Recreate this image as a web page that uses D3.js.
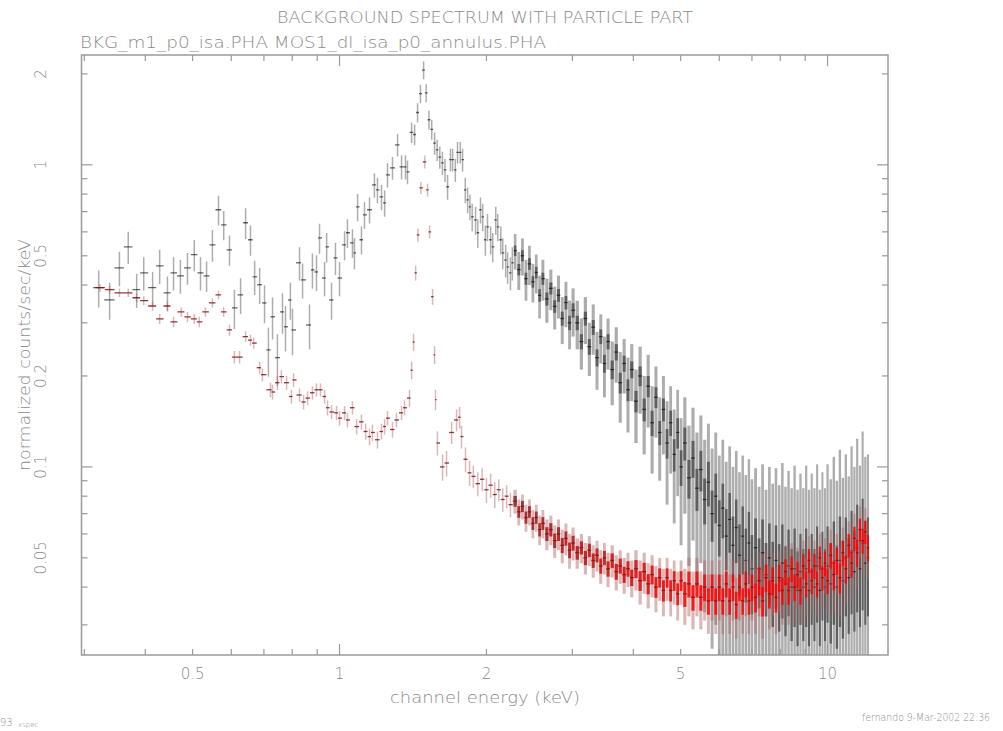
<!DOCTYPE html>
<meta charset='utf-8'>
<html>
  <head>
    <script src="https://d3js.org/d3.v7.min.js"></script>
    <style>
      body { margin: 0; background: #fff; }
      text { font-family: 'DejaVu Sans', sans-serif; font-weight: 300; fill: #8a8a8a; }
    </style>
  </head>
  <body>
    <div id="chart"></div>
    <script>
        // low energy channels, black spectrum
        var blackLoE = [0.321,0.338,0.354,0.369,0.384,0.397,0.414,0.428,0.444,0.457,
            0.472,0.488,0.504,0.519,0.534,0.549,0.565,0.579,0.595,0.609,
            0.627,0.642,0.657,0.670,0.686,0.702,0.715,0.729,0.746,0.764,
            0.775,0.793,0.801,0.828,0.840,0.868,0.880,0.897,0.910,0.932,
            0.941,0.963,0.981,1.000,1.024,1.038,1.063,1.073,1.089,1.109,
            1.125,1.152,1.179,1.196,1.219,1.237,1.254,1.284,1.315,1.340,
            1.365,1.378,1.405,1.425,1.445,1.465,1.487,1.505,1.525,1.545,
            1.566,1.585,1.605,1.625,1.645,1.665,1.688,1.705,1.727,1.745,
            1.768,1.787,1.81,1.83,1.85,1.87,1.90,1.92,1.945,1.965,
            1.99,2.01,2.04,2.06,2.09,2.11,2.14,2.16,2.19,2.21,
            2.24,2.26]
        var blackLoY = [0.392,0.357,0.456,0.535,0.386,0.439,0.392,0.463,0.377,0.439,
            0.429,0.456,0.504,0.439,0.429,0.543,0.710,0.633,0.523,0.336,
            0.371,0.643,0.565,0.426,0.401,0.349,0.244,0.314,0.230,0.326,
            0.291,0.357,0.284,0.474,0.416,0.295,0.449,0.442,0.573,0.422,
            0.535,0.357,0.492,0.422,0.543,0.596,0.552,0.511,0.726,0.565,
            0.683,0.710,0.858,0.826,0.783,0.748,0.927,0.977,1.165,0.985,
            0.985,0.948,1.28,1.26,1.49,1.72,2.06,1.73,1.41,1.31,
            1.18,1.12,1.06,1.015,0.963,0.846,1.04,1.04,0.963,1.10,
            1.10,1.04,0.826,0.766,0.726,0.673,0.657,0.596,0.710,0.673,
            0.565,0.623,0.565,0.535,0.657,0.623,0.565,0.511,0.484,0.459,
            0.439,0.474]
        var blackLoErr = [0.055,0.05,0.06,0.065,0.05,0.055,0.05,0.06,0.05,0.055,
            0.055,0.055,0.06,0.055,0.05,0.065,0.08,0.07,0.06,0.05,
            0.05,0.075,0.065,0.055,0.055,0.05,0.045,0.05,0.045,0.05,
            0.05,0.05,0.05,0.06,0.055,0.05,0.06,0.06,0.065,0.055,
            0.06,0.05,0.06,0.055,0.06,0.065,0.06,0.06,0.075,0.06,
            0.07,0.07,0.08,0.08,0.075,0.075,0.085,0.085,0.1,0.09,
            0.09,0.085,0.1,0.1,0.11,0.12,0.14,0.12,0.1,0.1,
            0.1,0.09,0.09,0.09,0.085,0.08,0.09,0.09,0.085,0.09,
            0.09,0.09,0.08,0.075,0.07,0.07,0.07,0.065,0.07,0.07,
            0.065,0.065,0.06,0.06,0.07,0.065,0.06,0.06,0.06,0.055,
            0.055,0.06]

        // low energy channels, red spectrum
        var redLoE = [0.323,0.338,0.354,0.369,0.384,0.397,0.414,0.428,0.444,0.457,
            0.474,0.488,0.504,0.516,0.531,0.549,0.565,0.579,0.595,0.609,
            0.624,0.642,0.657,0.667,0.686,0.695,0.722,0.729,0.746,0.760,
            0.779,0.797,0.805,0.828,0.844,0.860,0.880,0.897,0.914,0.932,
            0.945,0.963,0.986,1.000,1.024,1.038,1.063,1.084,1.109,1.131,
            1.152,1.168,1.196,1.219,1.237,1.254,1.284,1.308,1.340,1.359,
            1.391,1.405,1.418,1.432,1.448,1.468,1.495,1.515,1.529,1.551,
            1.566,1.573,1.587,1.626,1.657,1.697,1.737,1.762,1.778,1.812,
            1.847,1.88,1.92,1.96,2.00,2.04,2.08,2.12,2.16,2.20,
            2.24]
        var redLoY = [0.392,0.386,0.377,0.377,0.363,0.355,0.341,0.309,0.341,0.302,
            0.326,0.314,0.309,0.302,0.326,0.349,0.371,0.326,0.284,0.231,
            0.231,0.270,0.263,0.257,0.213,0.202,0.180,0.177,0.190,0.199,
            0.190,0.171,0.194,0.173,0.164,0.169,0.176,0.180,0.180,0.171,
            0.157,0.152,0.151,0.145,0.151,0.143,0.157,0.136,0.141,0.131,
            0.126,0.130,0.123,0.131,0.136,0.145,0.133,0.143,0.151,0.157,
            0.169,0.209,0.259,0.439,0.586,0.839,1.023,0.826,0.600,0.366,
            0.235,0.167,0.120,0.100,0.103,0.130,0.143,0.146,0.126,0.106,
            0.0956,0.093,0.088,0.091,0.084,0.087,0.081,0.084,0.078,0.080,
            0.075]
        var redLoErr = [0.012,0.012,0.012,0.012,0.012,0.012,0.012,0.012,0.012,0.012,
            0.012,0.012,0.012,0.012,0.012,0.012,0.012,0.012,0.012,0.011,
            0.011,0.011,0.011,0.011,0.01,0.01,0.01,0.01,0.01,0.01,
            0.01,0.009,0.01,0.009,0.009,0.009,0.009,0.009,0.009,0.009,
            0.009,0.008,0.008,0.008,0.008,0.008,0.008,0.008,0.008,0.008,
            0.008,0.008,0.008,0.008,0.008,0.008,0.008,0.008,0.008,0.009,
            0.011,0.014,0.017,0.025,0.03,0.04,0.05,0.04,0.03,0.022,
            0.016,0.013,0.011,0.01,0.01,0.011,0.012,0.012,0.011,0.01,
            0.009,0.008,0.008,0.008,0.008,0.008,0.008,0.007,0.007,0.007,
            0.007]

        // high energy channels (both spectra)
        var gridE = [2.29,2.33,2.37,2.41,2.45,2.49,2.53,2.57,2.61,2.66,2.71,2.76,2.81,2.86,2.91,2.96,3.01,
            3.07,3.13,3.19,3.25,3.31,3.37,3.43,3.49,3.55,3.62,3.69,3.76,3.83,3.90,3.97,
            4.05,4.13,4.21,4.29,4.37,4.45,4.53,4.61,4.69,4.77,4.85,4.93,5.01,
            5.1,5.2,5.3,5.4,5.5,5.6,5.7,5.8,5.9,6.0,6.1,6.2,6.3,6.4,6.5,6.6,6.7,6.8,6.9,7.0,
            7.12,7.24,7.36,7.48,7.6,7.72,7.84,7.96,8.08,8.2,8.32,8.44,8.56,8.68,8.8,8.92,9.04,9.16,9.28,9.4,9.52,9.64,9.76,9.88,10.0,
            10.15,10.3,10.45,10.6,10.75,10.9,11.05,11.2,11.35,11.5,11.65,11.8,11.95,12.1]
        var blackHiY = [0.52,0.45,0.50,0.42,0.47,0.41,0.44,0.37,0.42,0.36,0.39,0.34,0.37,0.31,0.35,0.30,0.33,
            0.30,0.26,0.31,0.25,0.29,0.23,0.27,0.22,0.26,0.21,0.24,0.19,0.22,0.18,0.21,
            0.165,0.20,0.155,0.185,0.14,0.17,0.13,0.155,0.12,0.14,0.11,0.13,0.10,
            0.12,0.092,0.107,0.085,0.098,0.078,0.089,0.07,0.08,0.064,0.073,0.059,0.067,0.055,0.063,0.051,0.059,0.049,0.056,0.046,
            0.054,0.046,0.052,0.044,0.05,0.043,0.049,0.042,0.048,0.041,0.047,0.04,0.046,0.039,0.045,0.04,0.046,0.039,0.045,0.04,0.047,0.039,0.046,0.04,0.047,
            0.041,0.048,0.04,0.049,0.042,0.05,0.043,0.052,0.045,0.054,0.046,0.056,0.048,0.05]
        var blackHiErr = [0.07,0.065,0.07,0.065,0.07,0.06,0.065,0.06,0.065,0.06,0.06,0.055,0.06,0.055,0.06,0.055,0.06,
            0.055,0.05,0.055,0.05,0.055,0.05,0.05,0.05,0.05,0.05,0.05,0.05,0.045,0.05,0.045,
            0.045,0.05,0.045,0.05,0.045,0.045,0.04,0.045,0.045,0.045,0.045,0.05,0.045,
            0.05,0.045,0.05,0.045,0.05,0.045,0.05,0.045,0.05,0.045,0.05,0.045,0.05,0.045,0.05,0.045,0.05,0.045,0.05,0.045,
            0.045,0.04,0.05,0.04,0.05,0.045,0.05,0.045,0.055,0.045,0.05,0.045,0.055,0.045,0.05,0.045,0.055,0.045,0.05,0.045,0.055,0.045,0.05,0.045,0.055,
            0.05,0.06,0.05,0.065,0.05,0.06,0.05,0.065,0.055,0.07,0.055,0.075,0.06,0.06]
        var redHiY = [0.077,0.071,0.074,0.068,0.071,0.065,0.068,0.062,0.065,0.060,0.062,0.057,0.060,0.055,0.058,0.053,0.056,
            0.052,0.054,0.050,0.053,0.049,0.051,0.047,0.050,0.046,0.049,0.045,0.047,0.044,0.046,0.043,
            0.046,0.042,0.045,0.041,0.044,0.040,0.043,0.039,0.043,0.039,0.042,0.038,0.042,
            0.038,0.041,0.037,0.041,0.037,0.040,0.036,0.040,0.036,0.040,0.036,0.041,0.036,0.040,0.035,0.040,0.036,0.041,0.036,0.040,
            0.037,0.042,0.036,0.043,0.038,0.042,0.037,0.043,0.039,0.045,0.039,0.046,0.040,0.044,0.039,0.047,0.041,0.049,0.042,0.047,0.041,0.050,0.043,0.048,0.042,
            0.051,0.044,0.049,0.043,0.052,0.046,0.055,0.048,0.058,0.052,0.062,0.057,0.061,0.054]
        var redHiErr = [0.007,0.007,0.007,0.007,0.007,0.007,0.007,0.007,0.007,0.007,0.007,0.007,0.007,0.007,0.007,0.007,0.007,
            0.006,0.006,0.006,0.006,0.006,0.006,0.006,0.006,0.006,0.006,0.006,0.006,0.006,0.006,0.006,
            0.007,0.007,0.007,0.007,0.007,0.007,0.007,0.007,0.007,0.007,0.007,0.007,0.007,
            0.008,0.009,0.008,0.009,0.008,0.009,0.008,0.009,0.008,0.009,0.008,0.009,0.008,0.009,0.008,0.009,0.008,0.009,0.008,0.009,
            0.009,0.01,0.009,0.01,0.009,0.01,0.009,0.01,0.009,0.01,0.009,0.01,0.009,0.01,0.009,0.01,0.009,0.01,0.009,0.01,0.009,0.01,0.009,0.01,0.009,
            0.011,0.011,0.011,0.011,0.011,0.011,0.011,0.011,0.012,0.012,0.012,0.012,0.012,0.012]

        var xTicks = [0.5, 1, 2, 5, 10]
        var yTicks = [0.05, 0.1, 0.2, 0.5, 1, 2]

        var W = 1003, H = 731
        var pLeft = 81.5, pRight = 888, pTop = 55, pBottom = 655

        var svg = d3.select('#chart').append('svg')
            .attr('width', W)
            .attr('height', H)

        // Scales
        var xScale = d3.scaleLog().domain([0.296, 13.3]).range([pLeft, pRight])
        var yScale = d3.scaleLog().domain([0.02384, 2.31]).range([pBottom, pTop])
        var yMin = yScale.domain()[0]
        // red channels go from dark red to bright red in the crowded part
        var redCore = d3.scaleLog().domain([2.3, 5.5]).range(['#9a1a1a', '#ff0000']).clamp(true)

        // build one record per channel; channels past nLow are the crowded ones
        function makeSeries(E, Y, Err, nLow) {
            return E.map(function (e, i) {
                var lo = i > 0 ? Math.sqrt(E[i - 1] * e) : e * Math.sqrt(e / E[i + 1])
                var hi = i < E.length - 1 ? Math.sqrt(E[i + 1] * e) : e * Math.sqrt(e / E[i - 1])
                var binPx = xScale(hi) - xScale(lo)
                var dense = i >= nLow
                return { e: e, v: Y[i], err: Err[i], lo: lo, hi: hi, dense: dense, w: dense ? Math.max(1.5, binPx * 0.8) : 1.5 }
            })
        }
        var black = makeSeries(blackLoE.concat(gridE), blackLoY.concat(blackHiY), blackLoErr.concat(blackHiErr), blackLoE.length)
        var red = makeSeries(redLoE.concat(gridE), redLoY.concat(redHiY), redLoErr.concat(redHiErr), redLoE.length)

        svg.append('clipPath').attr('id', 'plotClip')
            .append('rect')
            .attr('x', pLeft).attr('y', pTop)
            .attr('width', pRight - pLeft).attr('height', pBottom - pTop)

        var plot = svg.append('g').attr('clip-path', 'url(#plotClip)')

        function yLow(v) { return yScale(Math.max(yMin * 0.9, v)) }

        function drawSeries(data, st) {
            var g = plot.append('g')
            // full error bar
            g.selectAll('line.v')
                .data(data)
                .enter()
                .append('line')
                .attr('class', 'v')
                .attr('x1', function (d) { return xScale(d.e) })
                .attr('x2', function (d) { return xScale(d.e) })
                .attr('y1', function (d) { return yScale(d.v + d.err) })
                .attr('y2', function (d) { return yLow(d.v - d.err) })
                .attr('stroke', st.bar)
                .attr('stroke-opacity', st.barOp)
                .attr('stroke-width', function (d) { return d.w })
            // crowded channels pile up darker near the data value
            g.selectAll('line.c')
                .data(data.filter(function (d) { return d.dense }))
                .enter()
                .append('line')
                .attr('class', 'c')
                .attr('x1', function (d) { return xScale(d.e) })
                .attr('x2', function (d) { return xScale(d.e) })
                .attr('y1', function (d) { return yScale(d.v + d.err * st.coreFrac) })
                .attr('y2', function (d) { return yLow(d.v - d.err * st.coreFrac) })
                .attr('stroke', st.core)
                .attr('stroke-opacity', st.coreOp)
                .attr('stroke-width', function (d) { return d.w })
            // channel width
            g.selectAll('line.h')
                .data(data)
                .enter()
                .append('line')
                .attr('class', 'h')
                .attr('x1', function (d) { return xScale(d.lo) })
                .attr('x2', function (d) { return xScale(d.hi) })
                .attr('y1', function (d) { return yScale(d.v) })
                .attr('y2', function (d) { return yScale(d.v) })
                .attr('stroke', st.mark)
                .attr('stroke-opacity', st.markOp)
                .attr('stroke-width', 1.3)
        }
        drawSeries(black, { bar: '#000', barOp: 0.32, core: '#000', coreOp: 0.45, coreFrac: 0.3, mark: '#000', markOp: 0.6 })
        drawSeries(red, { bar: '#b06060', barOp: 0.45, core: function (d) { return redCore(d.e) }, coreOp: 0.85, coreFrac: 0.45, mark: '#7a1515', markOp: 0.85 })

        // frame
        svg.append('rect')
            .attr('x', pLeft).attr('y', pTop)
            .attr('width', pRight - pLeft).attr('height', pBottom - pTop)
            .attr('fill', 'none')
            .attr('stroke', '#9a9a9a')
            .attr('stroke-width', 1.5)

        // log ticks on all four sides, pointing inward
        var axisG = svg.append('g').attr('stroke', '#9a9a9a').attr('stroke-width', 1.2)
        var xMinor = [], yMinor = []
        ;[0.1, 1, 10].forEach(function (dec) {
            for (var k = 1; k < 10; k++) {
                var v = dec * k
                if (v >= 0.296 && v <= 13.3) xMinor.push(v)
            }
        })
        ;[0.01, 0.1, 1].forEach(function (dec) {
            for (var k = 1; k < 10; k++) {
                var v = dec * k
                if (v >= 0.02384 && v <= 2.31) yMinor.push(v)
            }
        })
        xMinor.forEach(function (v) {
            var len = (v === 1 || v === 10) ? 11 : 6
            var px = xScale(v)
            axisG.append('line').attr('x1', px).attr('x2', px).attr('y1', pBottom).attr('y2', pBottom - len)
            axisG.append('line').attr('x1', px).attr('x2', px).attr('y1', pTop).attr('y2', pTop + len)
        })
        yMinor.forEach(function (v) {
            var len = (Math.abs(v - 0.1) < 1e-9 || Math.abs(v - 1) < 1e-9) ? 11 : 6
            var py = yScale(v)
            axisG.append('line').attr('x1', pLeft).attr('x2', pLeft + len).attr('y1', py).attr('y2', py)
            axisG.append('line').attr('x1', pRight).attr('x2', pRight - len).attr('y1', py).attr('y2', py)
        })

        // tick labels
        svg.selectAll('text.xt')
            .data(xTicks)
            .enter()
            .append('text')
            .attr('class', 'xt')
            .attr('x', function (d) { return xScale(d) })
            .attr('y', 679)
            .attr('text-anchor', 'middle')
            .style('font-size', '15px')
            .text(function (d) { return d })
        svg.selectAll('text.yt')
            .data(yTicks)
            .enter()
            .append('text')
            .attr('class', 'yt')
            .attr('transform', function (d) { return 'translate(46,' + yScale(d) + ') rotate(-90)' })
            .attr('text-anchor', 'middle')
            .style('font-size', '15px')
            .text(function (d) { return d })

        // titles
        svg.append('text')
            .attr('x', 485).attr('y', 23)
            .attr('text-anchor', 'middle')
            .attr('textLength', 416).attr('lengthAdjust', 'spacingAndGlyphs')
            .style('font-size', '16px')
            .text('BACKGROUND SPECTRUM WITH PARTICLE PART')
        svg.append('text')
            .attr('x', 80).attr('y', 48)
            .attr('textLength', 466).attr('lengthAdjust', 'spacingAndGlyphs')
            .style('font-size', '16px')
            .text('BKG_m1_p0_isa.PHA MOS1_dl_isa_p0_annulus.PHA')
        svg.append('text')
            .attr('x', 485).attr('y', 703)
            .attr('text-anchor', 'middle')
            .attr('textLength', 190).attr('lengthAdjust', 'spacingAndGlyphs')
            .style('font-size', '16px')
            .text('channel energy (keV)')
        svg.append('text')
            .attr('transform', 'translate(30,355) rotate(-90)')
            .attr('text-anchor', 'middle')
            .attr('textLength', 232).attr('lengthAdjust', 'spacingAndGlyphs')
            .style('font-size', '16px')
            .text('normalized counts/sec/keV')

        // footer
        svg.append('text')
            .attr('x', 990).attr('y', 721)
            .attr('text-anchor', 'end')
            .attr('textLength', 128).attr('lengthAdjust', 'spacingAndGlyphs')
            .style('font-size', '10px')
            .text('fernando  9-Mar-2002 22:36')
        svg.append('text')
            .attr('x', 0).attr('y', 726)
            .style('font-size', '10px')
            .text('93')
        svg.append('text')
            .attr('x', 18).attr('y', 727)
            .style('font-size', '7px')
            .text('xspec')
    </script>
  </body>
</html>
